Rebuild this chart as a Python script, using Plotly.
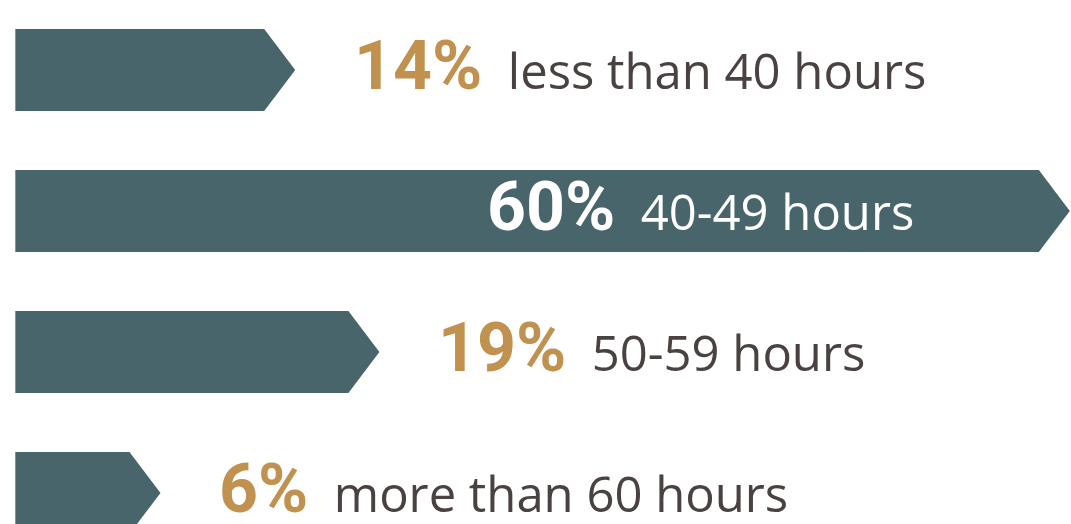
import plotly.graph_objects as go

# ---- data ----
categories = ["less than 40 hours", "40-49 hours", "50-59 hours", "more than 60 hours"]
percentages = [14, 60, 19, 6]
pct_labels = ["14%", "60%", "19%", "6%"]

# ---- style ----
BAR = "#47656a"
GOLD = "#c1914f"
TEXT = "#4a4241"
STUB = 2.62      # visual stub at bar start (data units)
TIP = 1.84       # arrow tip depth (data units)
HALF = 0.29      # half bar thickness (category units)
PCT_FONT = "Roboto, 'DejaVu Sans Condensed', sans-serif"
TXT_FONT = "'Open Sans', Roboto, sans-serif"

fig = go.Figure()
for i, v in enumerate(percentages):
    xs = [-STUB, v - TIP, v, v - TIP, -STUB, -STUB]
    ys = [i - HALF, i - HALF, i, i + HALF, i + HALF, i - HALF]
    fig.add_trace(go.Scatter(
        x=xs, y=ys, mode="lines", fill="toself",
        line=dict(width=0, color=BAR), fillcolor=BAR,
        hoverinfo="skip", showlegend=False,
    ))

for i, (cat, v, lab) in enumerate(zip(categories, percentages, pct_labels)):
    inside = v > 40
    pct_color = "#ffffff" if inside else GOLD
    txt_color = "#ffffff" if inside else TEXT
    text = (f'<span style="font-family:{PCT_FONT};font-size:68px;font-weight:bold;color:{pct_color}">{lab}</span>'
            f'<span style="font-size:49px">\u00a0\u00a0</span>'
            f'<span style="font-family:{TXT_FONT};font-size:49px;color:{txt_color}">{cat}</span>')
    fig.add_annotation(
        x=v, y=i, xref="x", yref="y", text=text, showarrow=False,
        xanchor="right" if inside else "left", yanchor="middle",
        xshift=-154 if inside else 57, yshift=4,
        font=dict(family=TXT_FONT, size=49, color=txt_color),
    )

fig.update_layout(
    width=1071, height=524,
    margin=dict(l=0, r=0, t=0, b=0),
    paper_bgcolor="white", plot_bgcolor="white",
    xaxis=dict(range=[-3.53, 60.07], visible=False, fixedrange=True),
    yaxis=dict(range=[3.22, -0.4965], visible=False, fixedrange=True),
    showlegend=False,
)

fig.write_html(
    "out.html",
    config={"displayModeBar": False, "staticPlot": True},
    post_script="document.body.style.margin='0';document.body.style.overflow='hidden';",
)
